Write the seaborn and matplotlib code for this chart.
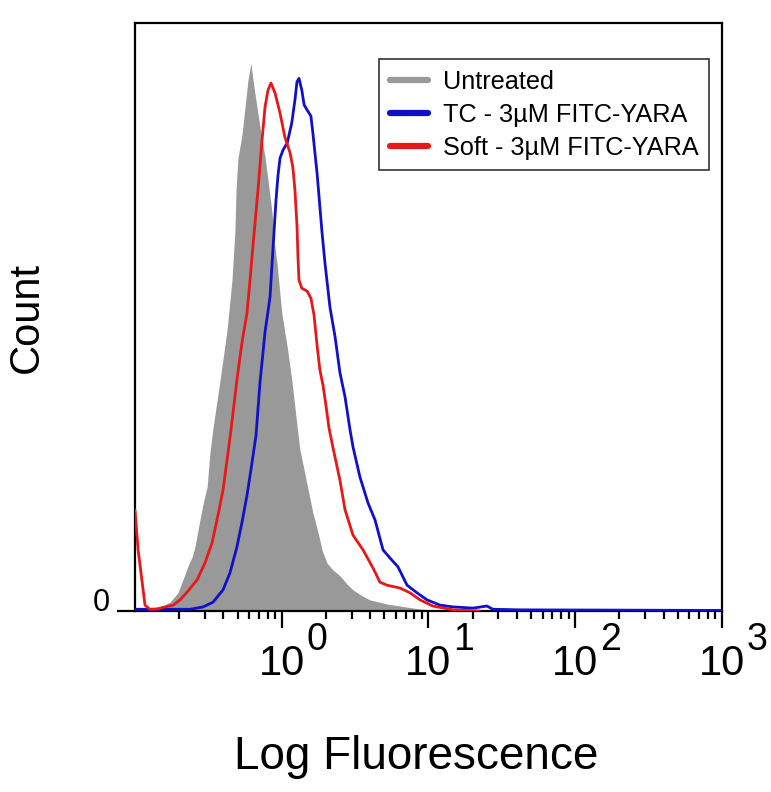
import numpy as np
import pandas as pd
import matplotlib
matplotlib.use("Agg")
import matplotlib.pyplot as plt
from matplotlib.lines import Line2D
from matplotlib.ticker import FixedLocator, LogLocator, NullFormatter
import seaborn as sns

# Untreated (filled grey histogram)
untreated_x = [0.108, 0.126, 0.155, 0.173, 0.196, 0.212, 0.230, 0.245, 0.256, 0.277,
               0.295, 0.310, 0.324, 0.340, 0.380, 0.424, 0.458, 0.480, 0.488, 0.503,
               0.536, 0.562, 0.589, 0.617, 0.637, 0.678, 0.711, 0.769, 0.806, 0.859,
               0.886, 0.928, 1.00, 1.09, 1.17, 1.27, 1.33, 1.42, 1.49, 1.63,
               1.77, 1.88, 2.03, 2.23, 2.49, 2.78, 3.06, 3.52, 3.99, 5.21,
               6.40, 8.75, 14.0]
untreated_y = [0.2, 0.5, 0.9, 1.5, 3.1, 5.3, 7.7, 9.2, 10.9, 15.5,
               18.9, 21.1, 26.9, 31.1, 39.3, 47.8, 56.3, 64.8, 71.6, 77.0,
               81.0, 85.7, 90.3, 93.2, 90.3, 85.7, 82.3, 77.2, 73.3, 67.7,
               63.1, 59.2, 50.7, 44.9, 39.3, 31.6, 27.4, 24.0, 21.4, 16.7,
               13.3, 10.4, 8.2, 7.0, 6.0, 4.6, 3.6, 2.6, 1.9, 1.2,
               0.85, 0.34, 0.0]

# TC - 3uM FITC-YARA (blue)
tc_x = [0.100, 0.237, 0.291, 0.340, 0.398, 0.444, 0.495, 0.536, 0.580, 0.627,
        0.668, 0.711, 0.769, 0.832, 0.872, 0.914, 0.943, 0.973, 1.02, 1.09,
        1.17, 1.23, 1.27, 1.31, 1.37, 1.42, 1.49, 1.58, 1.63, 1.74,
        1.82, 1.88, 1.97, 2.13, 2.31, 2.49, 2.70, 2.92, 3.06, 3.41,
        3.87, 4.32, 4.90, 5.47, 6.20, 7.14, 8.35, 9.77, 12.0, 14.7,
        20.1, 25.0, 27.5, 42.0, 1000.0]
tc_y = [0.3, 0.3, 0.7, 1.5, 3.6, 6.5, 10.9, 15.1, 19.7, 25.2,
        29.9, 38.9, 47.4, 53.4, 61.7, 69.9, 74.1, 77.0, 78.4, 79.6,
        83.0, 86.9, 90.0, 90.6, 88.6, 86.1, 85.2, 84.2, 81.3, 74.5,
        68.7, 64.5, 59.2, 51.7, 46.6, 40.6, 36.4, 30.8, 27.9, 22.8,
        18.4, 15.5, 10.4, 9.0, 7.5, 4.4, 3.1, 1.9, 1.0, 0.7,
        0.5, 0.85, 0.3, 0.2, 0.1]

# Soft - 3uM FITC-YARA (red)
soft_x = [0.100, 0.105, 0.112, 0.117, 0.126, 0.141, 0.160, 0.182, 0.203, 0.226,
          0.265, 0.300, 0.335, 0.368, 0.398, 0.424, 0.451, 0.495, 0.536, 0.580,
          0.608, 0.637, 0.689, 0.734, 0.769, 0.806, 0.845, 0.900, 0.973, 1.05,
          1.14, 1.19, 1.23, 1.27, 1.29, 1.31, 1.37, 1.49, 1.58, 1.66,
          1.74, 1.82, 1.91, 2.00, 2.10, 2.23, 2.49, 2.70, 3.06, 3.58,
          4.19, 4.67, 5.21, 6.40, 7.48, 8.75, 10.7, 14.7, 22.4]
soft_y = [17.2, 10.4, 4.8, 1.0, 0.3, 0.3, 0.7, 1.0, 1.9, 3.2,
          5.3, 8.2, 11.6, 16.3, 20.6, 25.7, 30.8, 39.3, 45.7, 50.7,
          56.3, 62.2, 71.6, 80.1, 85.7, 88.6, 89.8, 88.1, 84.7, 80.6,
          77.9, 75.5, 71.6, 65.6, 60.2, 56.3, 54.9, 54.4, 53.2, 50.3,
          45.2, 41.0, 38.4, 35.0, 31.1, 27.9, 22.3, 17.2, 12.9, 10.4,
          7.3, 4.9, 4.4, 3.9, 3.1, 1.9, 0.85, 0.2, 0.0]

labels = ["Untreated", "TC - 3\u00b5M FITC-YARA", "Soft - 3\u00b5M FITC-YARA"]
colors = ["#999999", "#1010c8", "#e81818"]
tick_vals = [1, 10, 100, 1000]
tick_exps = ["0", "1", "2", "3"]

sns.set_style("white")
plt.rcParams["font.family"] = ["Liberation Sans", "DejaVu Sans"]
plt.rcParams["text.color"] = "black"
plt.rcParams["axes.labelcolor"] = "black"

fig = plt.figure(figsize=(7.71, 7.92), dpi=100)
ax = fig.add_axes([0.1751, 0.2285, 0.7613, 0.7424])

ax.fill_between(untreated_x, 0, untreated_y, color=colors[0], lw=0, zorder=1)

tc_df = pd.DataFrame({"x": tc_x, "y": tc_y})
soft_df = pd.DataFrame({"x": soft_x, "y": soft_y})
sns.lineplot(data=tc_df, x="x", y="y", color=colors[1], lw=2.0, sort=False, ax=ax, zorder=3)
sns.lineplot(data=soft_df, x="x", y="y", color=colors[2], lw=2.0, sort=False, ax=ax, zorder=4)

ax.set_xscale("log")
ax.set_xlim(0.1, 1000)
ax.set_ylim(0, 100)

for s in ax.spines.values():
    s.set_color("black")
    s.set_linewidth(1.6)

ax.xaxis.set_major_locator(FixedLocator(tick_vals))
ax.set_xticklabels(["10"] * len(tick_vals))
ax.xaxis.set_minor_locator(LogLocator(base=10, subs=np.arange(2, 10)))
ax.xaxis.set_minor_formatter(NullFormatter())
ax.tick_params(axis="x", which="major", direction="out", length=12, width=1.6,
               labelsize=30, pad=12, bottom=True, colors="black")
ax.tick_params(axis="x", which="minor", direction="out", length=6, width=1.6,
               bottom=True, colors="black")

ax.set_yticks([0])
ax.set_yticklabels(["0"])
ax.tick_params(axis="y", direction="out", length=13, width=1.6, labelsize=22, pad=5,
               left=True, colors="black")
for t in ax.get_yticklabels():
    t.set_verticalalignment("baseline")

for v, e in zip(tick_vals, tick_exps):
    ax.annotate(e, xy=(v, 0), xycoords=("data", "axes fraction"),
                xytext=(18, -28), textcoords="offset points",
                ha="left", va="baseline", fontsize=27, annotation_clip=False)

ax.set_xlabel("Log Fluorescence", fontsize=33)
ax.xaxis.set_label_coords(0.479, -0.248)
ax.xaxis.label.set_verticalalignment("center")
ax.set_ylabel("Count", fontsize=30)
ax.yaxis.set_label_coords(-0.184, 0.5)
ax.yaxis.label.set_verticalalignment("center")

handles = [Line2D([0], [0], color=c, lw=4.5) for c in colors]
leg = ax.legend(handles, labels, loc="upper left", bbox_to_anchor=(0.4157, 0.939),
                borderaxespad=0, fontsize=18.2, frameon=True, fancybox=False,
                handlelength=1.5, handletextpad=0.6, borderpad=0.42, labelspacing=0.36)
leg.get_frame().set_edgecolor("black")
leg.get_frame().set_linewidth(1.2)

fig.savefig("out.png", dpi=100)
